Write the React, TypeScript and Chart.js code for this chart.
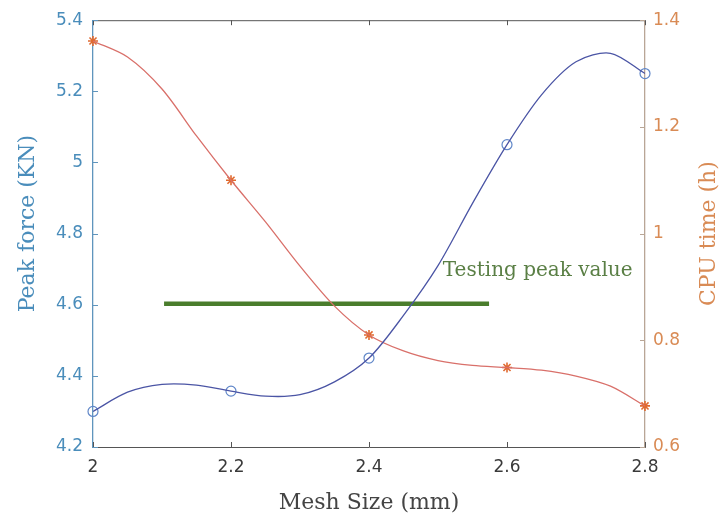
import React, { useEffect, useRef } from "react";
import { Chart, registerables } from "chart.js";

Chart.register(...registerables);

// Measured points
const meshSizes = [2.0, 2.2, 2.4, 2.6, 2.8];
const peakForce = [4.3, 4.357, 4.45, 5.05, 5.25];
const cpuTime = [1.361, 1.1, 0.81, 0.749, 0.677];

// Smooth fitted curves
const curveX = [2.0, 2.05, 2.1, 2.15, 2.2, 2.25, 2.3, 2.35, 2.4, 2.45, 2.5, 2.55, 2.6, 2.65, 2.7, 2.75, 2.8];
const peakForceCurve = [4.3, 4.354, 4.376, 4.374, 4.357, 4.343, 4.347, 4.383, 4.45, 4.57, 4.71, 4.885, 5.05, 5.19, 5.283, 5.307, 5.25];
const cpuTimeCurve = [1.361, 1.331, 1.271, 1.183, 1.1, 1.022, 0.939, 0.864, 0.81, 0.78, 0.762, 0.753, 0.749, 0.744, 0.733, 0.714, 0.677];

// Testing peak value line
const testingX = [2.103, 2.574];
const testingPeak = [4.603, 4.603];
const testingLabel = "Testing peak value";
const testingLabelPos = [2.507, 4.696];

// Ticks
const xTicks = [2, 2.2, 2.4, 2.6, 2.8];
const forceTicks = [4.2, 4.4, 4.6, 4.8, 5, 5.2, 5.4];
const cpuTicks = [0.6, 0.8, 1, 1.2, 1.4];

const xTitle = "Mesh Size (mm)";
const yTitle = "Peak force (KN)";
const y1Title = "CPU time (h)";

const BLUE_TXT = "#4a8dbb";
const ORANGE_TXT = "#d98b55";
const AXIS_DARK = "#555555";

const decorPlugin = {
  id: "decor",
  afterDatasetsDraw(chart: any) {
    const { ctx, scales } = chart;
    const px = scales.x.getPixelForValue(testingLabelPos[0]);
    const py = scales.y.getPixelForValue(testingLabelPos[1]);
    ctx.save();
    ctx.font = "20px 'DejaVu Serif'";
    ctx.fillStyle = "#5a7f45";
    ctx.textAlign = "left";
    ctx.textBaseline = "middle";
    ctx.fillText(testingLabel, px, py);
    ctx.restore();
  },
  afterDraw(chart: any) {
    const { ctx, chartArea, scales } = chart;
    const { left, right, top, bottom } = chartArea;
    ctx.save();
    ctx.lineWidth = 1;
    // top border
    ctx.strokeStyle = AXIS_DARK;
    ctx.beginPath();
    ctx.moveTo(left, top + 0.5);
    ctx.lineTo(right, top + 0.5);
    ctx.stroke();
    // x ticks (inward, bottom and top)
    ctx.beginPath();
    xTicks.forEach((v) => {
      const p = Math.round(scales.x.getPixelForValue(v)) + 0.5;
      ctx.moveTo(p, bottom);
      ctx.lineTo(p, bottom - 5);
      ctx.moveTo(p, top);
      ctx.lineTo(p, top + 5);
    });
    ctx.stroke();
    // left ticks
    ctx.strokeStyle = "#5f95bd";
    ctx.beginPath();
    forceTicks.forEach((v) => {
      const p = Math.round(scales.y.getPixelForValue(v)) + 0.5;
      ctx.moveTo(left, p);
      ctx.lineTo(left + 5, p);
    });
    ctx.stroke();
    // right ticks
    ctx.strokeStyle = "#b9a696";
    ctx.beginPath();
    cpuTicks.forEach((v) => {
      const p = Math.round(scales.y1.getPixelForValue(v)) + 0.5;
      ctx.moveTo(right, p);
      ctx.lineTo(right - 5, p);
    });
    ctx.stroke();

    // titles
    ctx.textAlign = "center";
    ctx.textBaseline = "middle";
    ctx.font = "22px 'DejaVu Serif'";
    ctx.fillStyle = "#444444";
    ctx.fillText(xTitle, (left + right) / 2, bottom + 56);

    const midY = (top + bottom) / 2;
    ctx.fillStyle = BLUE_TXT;
    ctx.save();
    ctx.translate(left - 65, midY - 10);
    ctx.rotate(-Math.PI / 2);
    ctx.fillText(yTitle, 0, 0);
    ctx.restore();

    ctx.fillStyle = ORANGE_TXT;
    ctx.save();
    ctx.translate(right + 64, midY);
    ctx.rotate(-Math.PI / 2);
    ctx.fillText(y1Title, 0, 0);
    ctx.restore();

    ctx.restore();
  },
};

export default function App() {
  const canvasRef = useRef<HTMLCanvasElement | null>(null);

  useEffect(() => {
    document.body.style.margin = "0";
    const canvas = canvasRef.current;
    if (!canvas) return;

    const toXY = (xs: number[], ys: number[]) => xs.map((x, i) => ({ x, y: ys[i] }));

    const chart = new Chart(canvas, {
      type: "line",
      data: {
        datasets: [
          {
            label: "Peak force curve",
            data: toXY(curveX, peakForceCurve),
            yAxisID: "y",
            borderColor: "#4b55a5",
            borderWidth: 1.3,
            pointRadius: 0,
            tension: 0.3,
            fill: false,
          },
          {
            label: "CPU time curve",
            data: toXY(curveX, cpuTimeCurve),
            yAxisID: "y1",
            borderColor: "#d9706a",
            borderWidth: 1.3,
            pointRadius: 0,
            tension: 0.3,
            fill: false,
          },
          {
            label: "Testing peak value",
            data: toXY(testingX, testingPeak),
            yAxisID: "y",
            borderColor: "#4a7d2c",
            borderWidth: 4.5,
            pointRadius: 0,
            fill: false,
          },
          {
            label: "Peak force",
            data: toXY(meshSizes, peakForce),
            yAxisID: "y",
            showLine: false,
            pointStyle: "circle",
            pointRadius: 5,
            pointBorderWidth: 1.2,
            pointBorderColor: "#5f86c8",
            pointBackgroundColor: "rgba(0,0,0,0)",
            clip: false,
          },
          {
            label: "CPU time",
            data: toXY(meshSizes, cpuTime),
            yAxisID: "y1",
            showLine: false,
            pointStyle: "star",
            pointRadius: 5,
            pointBorderWidth: 1.6,
            pointBorderColor: "#e06a30",
            pointBackgroundColor: "#e06a30",
            clip: false,
          },
        ],
      },
      options: {
        responsive: false,
        animation: false,
        devicePixelRatio: 1,
        layout: { padding: { top: 19, left: 0, right: 0, bottom: 0 } },
        plugins: {
          legend: { display: false },
          tooltip: { enabled: false },
        },
        scales: {
          x: {
            type: "linear",
            position: "bottom",
            min: 2,
            max: 2.8,
            afterBuildTicks: (s: any) => {
              s.ticks = xTicks.map((v) => ({ value: v }));
            },
            afterFit: (s: any) => {
              s.height = 74;
            },
            grid: { display: false, drawTicks: false },
            border: { display: true, color: AXIS_DARK, width: 1 },
            ticks: {
              color: "#3a3a3a",
              font: { family: "'DejaVu Sans'", size: 17 },
              padding: 10,
              maxRotation: 0,
              callback: (v: any) => String(v),
            },
          },
          y: {
            type: "linear",
            position: "left",
            min: 4.2,
            max: 5.4,
            afterBuildTicks: (s: any) => {
              s.ticks = forceTicks.map((v) => ({ value: v }));
            },
            afterFit: (s: any) => {
              s.width = 93;
            },
            grid: { display: false, drawTicks: false },
            border: { display: true, color: "#5f95bd", width: 1.3 },
            ticks: {
              color: BLUE_TXT,
              font: { family: "'DejaVu Sans'", size: 17 },
              padding: 10,
              callback: (v: any) => String(v),
            },
          },
          y1: {
            type: "linear",
            position: "right",
            min: 0.6,
            max: 1.4,
            afterBuildTicks: (s: any) => {
              s.ticks = cpuTicks.map((v) => ({ value: v }));
            },
            afterFit: (s: any) => {
              s.width = 76;
            },
            grid: { display: false, drawTicks: false },
            border: { display: true, color: "#b9a696", width: 1.3 },
            ticks: {
              color: ORANGE_TXT,
              font: { family: "'DejaVu Sans'", size: 17 },
              padding: 8,
              callback: (v: any) => String(v),
            },
          },
        },
      },
      plugins: [decorPlugin],
    } as any);

    return () => {
      chart.destroy();
    };
  }, []);

  return (
    <div style={{ width: 721, height: 521, background: "#ffffff" }}>
      <canvas ref={canvasRef} width={721} height={521} />
    </div>
  );
}
